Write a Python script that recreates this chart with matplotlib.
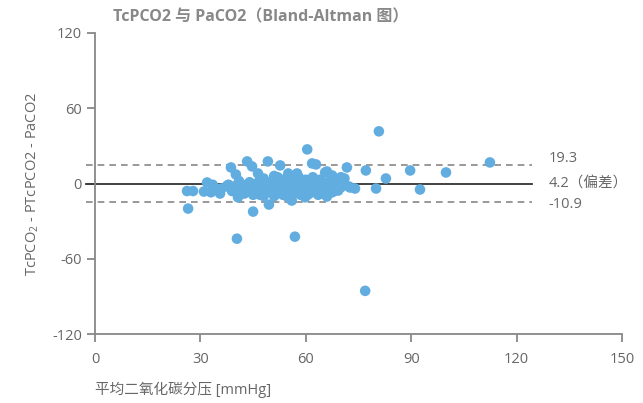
import matplotlib
matplotlib.use("Agg")
import matplotlib.pyplot as plt

plt.rcParams['font.family'] = ['Open Sans', 'Noto Sans CJK SC', 'DejaVu Sans']
plt.rcParams['mathtext.fontset'] = 'custom'
plt.rcParams['mathtext.rm'] = 'Open Sans'
plt.rcParams['mathtext.default'] = 'regular'
plt.rcParams['axes.unicode_minus'] = False

# mean of the two methods (x) and their difference (y)
mean_co2 = [26.5, 26.2, 27.9, 31.0, 31.9, 33.5, 34.0, 35.6, 33.0, 36.0,
            37.5, 38.4, 38.7, 40.1, 39.0, 40.7, 40.4, 41.5, 42.0, 42.5,
            43.3, 44.7, 44.0, 45.0, 45.5, 46.4, 46.0, 47.0, 47.5, 48.0,
            48.5, 49.2, 49.5, 49.0, 50.0, 50.5, 51.0, 51.5, 52.0, 52.7,
            52.5, 53.0, 53.5, 54.0, 54.5, 55.0, 55.5, 56.0, 56.0, 56.5,
            56.9, 57.0, 57.5, 58.0, 58.5, 59.0, 59.5, 59.8, 60.0, 60.4,
            60.5, 61.0, 61.8, 62.9, 62.0, 62.5, 63.0, 63.5, 64.0, 64.6,
            65.0, 65.5, 66.0, 66.0, 66.5, 67.0, 67.5, 68.0, 68.5, 69.2,
            69.5, 70.0, 71.0, 71.7, 72.3, 72.6,
            38.0, 40.0, 41.0, 43.0, 44.0, 45.0, 46.0, 47.0, 48.0, 49.0,
            50.0, 51.0, 52.0, 53.0, 54.0, 55.0, 55.0, 57.0, 58.0, 58.0,
            60.0, 61.0, 62.0, 63.0, 64.0, 65.0, 67.0, 68.0, 70.0, 71.0,
            42.0, 44.5, 47.5, 50.5, 53.5, 56.5, 59.0, 61.5, 64.5, 67.5,
            48.0, 51.5, 54.5, 57.5, 60.5, 63.5, 66.5,
            77.1, 82.8, 80.0, 89.7, 92.5, 99.9, 112.4, 80.8, 76.9, 74.0]
diff_co2 = [-20.0, -6.0, -6.0, -6.4, 0.8, -1.0, -3.0, -8.0, -7.0, -4.0,
            -2.0, -3.2, 12.8, 7.2, -6.0, -11.0, -44.0, -4.0, -1.0, -8.0,
            17.6, 13.6, -3.0, -22.4, -6.0, 8.0, 0.0, -9.0, -2.0, 4.0,
            -5.0, 17.6, -16.8, -1.0, -7.0, 2.0, -10.0, -3.0, 5.0, 14.4,
            -6.0, -1.0, -9.0, 1.0, -4.0, 8.0, -7.0, -13.6, -2.0, 3.0,
            -42.4, -5.0, 8.0, -1.0, -9.0, 2.0, -4.0, -11.0, -7.0, 27.2,
            0.0, -3.0, 16.0, 15.2, 5.0, -6.0, -1.0, -9.0, 3.0, -8.0,
            -3.0, 8.8, 9.6, -10.4, 0.0, -5.0, 6.4, -2.0, 3.0, -5.6,
            1.0, -3.0, 4.0, 12.8, -2.4, -3.2,
            -1.0, -2.0, 2.0, -5.0, 1.0, -9.0, -4.0, 3.0, -7.0, -3.0,
            0.0, 6.0, -2.0, 3.0, -7.0, -3.0, 4.0, 1.0, -6.0, 5.0,
            3.0, -8.0, -2.0, 2.0, -4.0, 1.0, 2.0, -6.0, 5.0, -1.0,
            -3.0, -5.0, -6.0, -4.0, -2.0, -8.0, -5.0, -4.0, -1.0, -7.0,
            -10.0, -6.0, -10.0, -4.0, -9.0, -5.0, -8.0,
            10.4, 4.0, -4.0, 10.4, -4.8, 8.8, 16.8, 41.6, -85.6, -4.0]

upper_loa = 19.3
bias = 4.2
lower_loa = -10.9

fig = plt.figure(figsize=(6.43, 4.03), dpi=100)
ax = fig.add_axes([95 / 643, 69 / 403, 527 / 643, 301 / 403])

ax.scatter(mean_co2, diff_co2, s=58, color='#62ade0', edgecolors='none', zorder=3)

# lines are drawn relative to the bias, like in the original chart
ax.plot([-2.5, 124.5], [0, 0], color='#333333', lw=1.3, clip_on=False, zorder=2)
ax.plot([-2.5, 124.5], [upper_loa - bias] * 2, color='#888888', lw=1.2,
        ls=(0, (4, 3)), clip_on=False, zorder=2)
ax.plot([-2.5, 124.5], [lower_loa - bias] * 2, color='#888888', lw=1.2,
        ls=(0, (4, 3)), clip_on=False, zorder=2)

txt = '#666666'
ax.text(129, upper_loa - bias + 4.5, f'{upper_loa}', color=txt, fontsize=10.5, va='center')
ax.text(129, 0.5, f'{bias}（偏差）', color=txt, fontsize=10.5, va='center')
ax.text(129, lower_loa - bias - 2, f'{lower_loa}', color=txt, fontsize=10.5, va='center')

ax.set_xlim(0, 150)
ax.set_ylim(-120, 120)
ax.set_xticks([0, 30, 60, 90, 120, 150])
ax.set_yticks([-120, -60, 0, 60, 120])

for side in ['top', 'right']:
    ax.spines[side].set_visible(False)
for side in ['left', 'bottom']:
    ax.spines[side].set_color('#888888')
    ax.spines[side].set_linewidth(1.3)
ax.tick_params(colors='#888888', labelcolor=txt, labelsize=10.5, length=6, width=1.3)
ax.tick_params(axis='x', pad=7)

ax.set_ylabel('TcPCO$_2$ - PTcPCO2 - PaCO2', color=txt, fontsize=10.5, labelpad=8)
ax.set_xlabel('平均二氧化碳分压 [mmHg]', color=txt, fontsize=10.5)
ax.xaxis.set_label_coords(0.0, -0.16)
ax.xaxis.label.set_ha('left')

fig.text(113 / 643, 1 - 17 / 403, 'TcPCO2 与 PaCO2（Bland-Altman 图）', color='#888888',
         fontsize=11.5, fontweight='bold', va='center', ha='left')

fig.savefig('out.png', dpi=100)
